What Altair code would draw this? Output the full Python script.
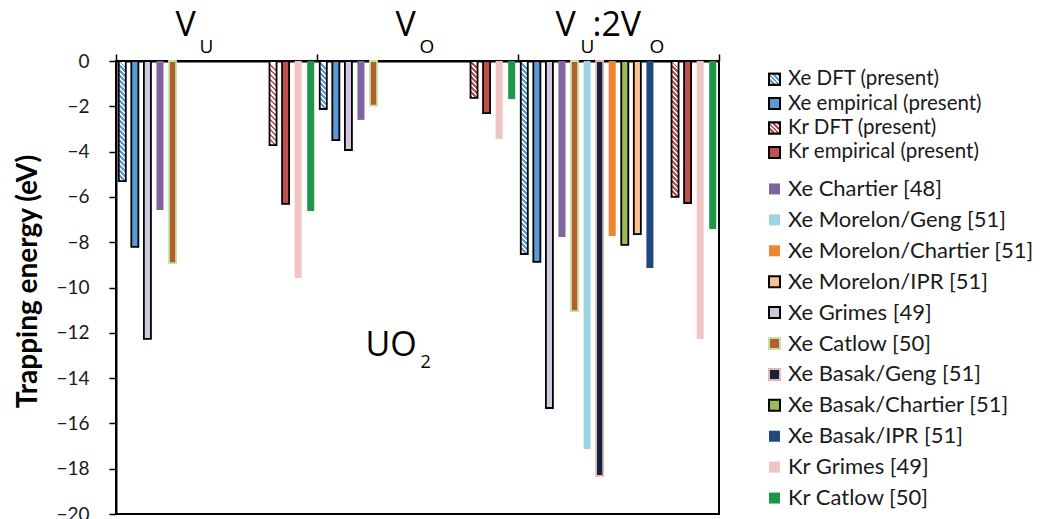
import altair as alt
import pandas as pd

# ---------------- data ----------------
categories = ["V_U", "V_O", "V_U:2V_O"]

series_slots = [
    "Xe DFT (present)", "Xe empirical (present)", "Xe Grimes [49]", "Xe Chartier [48]",
    "Xe Catlow [50]", "Xe Morelon/Geng [51]", "Xe Basak/Geng [51]", "Xe Morelon/Chartier [51]",
    "Xe Basak/Chartier [51]", "Xe Morelon/IPR [51]", "Xe Basak/IPR [51]", " ",
    "Kr DFT (present)", "Kr empirical (present)", "Kr Grimes [49]", "Kr Catlow [50]",
]

vals_vu = [-5.30, -8.21, -12.27, -6.58, -8.92, None, None, None,
           None, None, None, None, -3.71, -6.31, -9.58, -6.62]
vals_vo = [-2.12, -3.49, -3.93, -2.60, -1.97, None, None, None,
           None, None, None, None, -1.63, -2.30, -3.44, -1.68]
vals_vu2vo = [-8.52, -8.87, -15.32, -7.77, -11.04, -17.13, -18.32, -7.73,
              -8.12, -7.64, -9.14, None, -6.00, -6.27, -12.27, -7.42]

legend_top = ["Xe DFT (present)", "Xe empirical (present)", "Kr DFT (present)", "Kr empirical (present)"]
legend_bottom = ["Xe Chartier [48]", "Xe Morelon/Geng [51]", "Xe Morelon/Chartier [51]",
                 "Xe Morelon/IPR [51]", "Xe Grimes [49]", "Xe Catlow [50]", "Xe Basak/Geng [51]",
                 "Xe Basak/Chartier [51]", "Xe Basak/IPR [51]", "Kr Grimes [49]", "Kr Catlow [50]"]

# ---------------- styles ----------------
fill_map = {
    "Xe DFT (present)": "#ffffff", "Xe empirical (present)": "#5b9bd5",
    "Kr DFT (present)": "#ffffff", "Kr empirical (present)": "#c0504d",
    "Xe Chartier [48]": "#8064a2", "Xe Morelon/Geng [51]": "#9dd4e4",
    "Xe Morelon/Chartier [51]": "#ee8530", "Xe Morelon/IPR [51]": "#fac090",
    "Xe Grimes [49]": "#d0c6de", "Xe Catlow [50]": "#b0602a",
    "Xe Basak/Geng [51]": "#10253f", "Xe Basak/Chartier [51]": "#9bbb59",
    "Xe Basak/IPR [51]": "#1f497d", "Kr Grimes [49]": "#efc4c3",
    "Kr Catlow [50]": "#1e9648",
}
stroke_map = {
    "Xe DFT (present)": "#000000", "Xe empirical (present)": "#000000",
    "Kr DFT (present)": "#000000", "Kr empirical (present)": "#000000",
    "Xe Chartier [48]": "transparent", "Xe Morelon/Geng [51]": "transparent",
    "Xe Morelon/Chartier [51]": "transparent", "Xe Morelon/IPR [51]": "#000000",
    "Xe Grimes [49]": "#000000", "Xe Catlow [50]": "#c9dea4",
    "Xe Basak/Geng [51]": "#e8b5b4", "Xe Basak/Chartier [51]": "#000000",
    "Xe Basak/IPR [51]": "transparent", "Kr Grimes [49]": "transparent",
    "Kr Catlow [50]": "transparent",
}
hatch_color = {"Xe DFT (present)": "#5b9bd5", "Kr DFT (present)": "#c0504d"}

PLOT_W, PLOT_H = 603, 453
Y_MIN, Y_MAX = -20, 0
PAD_IN = 0.44
BAR_W = PLOT_W / len(categories) / len(series_slots) * (1 - PAD_IN)
FONT = "Lato"
SUBFONT = "Open Sans"


def hatch(color, w, h, period=5.0):
    n = (h + w * w / h) / period
    stops = []
    k = 0
    while k < n:
        a = k / n
        b = min((k + 0.5) / n, 1.0)
        c = min((k + 1) / n, 1.0)
        stops += [{"offset": a, "color": color}, {"offset": b, "color": color},
                  {"offset": b, "color": "#ffffff"}, {"offset": c, "color": "#ffffff"}]
        k += 1
    return {"gradient": "linear", "x1": 0, "y1": 1, "x2": w / h, "y2": 0, "stops": stops}


rows = []
for cat, vals in zip(categories, [vals_vu, vals_vo, vals_vu2vo]):
    for s, v in zip(series_slots, vals):
        if v is not None:
            rows.append({"category": cat, "series": s, "value": v})
df = pd.DataFrame(rows)

bar_series = [s for s in series_slots if s.strip()]

xenc = alt.X("category:N", sort=categories,
             scale=alt.Scale(domain=categories, paddingInner=0, paddingOuter=0),
             axis=alt.Axis(orient="top", labels=False, title=None, ticks=True, tickBand="extent",
                           tickSize=7, tickColor="black", tickWidth=1.5, domainColor="black",
                           domainWidth=2, grid=False))
xoenc = alt.XOffset("series:N", scale=alt.Scale(domain=series_slots, paddingInner=PAD_IN,
                                                 paddingOuter=PAD_IN / 2))
yenc = alt.Y("value:Q", scale=alt.Scale(domain=[Y_MIN, Y_MAX], nice=False, zero=False),
             axis=alt.Axis(values=list(range(-20, 1, 2)), tickSize=7, tickColor="black",
                           tickWidth=1.5, domainColor="black", domainWidth=2, grid=False,
                           labelFont=FONT, labelFontSize=19, labelColor="#1a1a1a",
                           labelPadding=20, title="Trapping energy (eV)", titleFont=FONT,
                           titleFontSize=28, titleFontWeight="bold", titleColor="#000000",
                           titlePadding=13, titleY=220))

bars = alt.Chart(df).transform_filter(
    "datum.series != 'Xe DFT (present)' && datum.series != 'Kr DFT (present)'"
).mark_bar(strokeWidth=1.8).encode(
    x=xenc, xOffset=xoenc, y=yenc,
    fill=alt.Fill("series:N", scale=alt.Scale(domain=bar_series,
                                              range=[fill_map[s] for s in bar_series]), legend=None),
    stroke=alt.Stroke("series:N", scale=alt.Scale(domain=bar_series,
                                                  range=[stroke_map[s] for s in bar_series]), legend=None),
)

layers = [bars]
for _, r in df[df.series.isin(list(hatch_color))].iterrows():
    h = -r.value * PLOT_H / (Y_MAX - Y_MIN)
    layers.append(
        alt.Chart(df).transform_filter(
            f"datum.series == '{r.series}' && datum.category == '{r.category}'"
        ).mark_bar(fill=hatch(hatch_color[r.series], BAR_W, h), stroke="black", strokeWidth=1.8)
        .encode(x=xenc, xOffset=xoenc, y=yenc)
    )

# category headings with subscripts: (category, text, dx, big?)
heading_parts = [
    ("V_U", "V", -41, True), ("V_U", "U", -17, False),
    ("V_O", "V", -22, True), ("V_O", "O", 2, False),
    ("V_U:2V_O", "V", -63, True), ("V_U:2V_O", "U", -38, False),
    ("V_U:2V_O", ":2V", -26, True), ("V_U:2V_O", "O", 31, False),
]
head_df = pd.DataFrame({"category": categories})
for cat, txt, dx, big in heading_parts:
    layers.append(
        alt.Chart(head_df).transform_filter(f"datum.category == '{cat}'").mark_text(
            text=txt, dx=dx, align="left", baseline="alphabetic", font=SUBFONT,
            fontSize=34 if big else 19, color="#000000"
        ).encode(x=xenc, y=alt.value(-25 if big else -8))
    )

# UO2 annotation
uo_df = pd.DataFrame({"category": ["V_O", "V_O"], "value": [-13.02, -13.55], "text": ["UO", "2"]})
layers.append(alt.Chart(uo_df).transform_filter("datum.text == 'UO'").mark_text(
    dx=-52, align="left", baseline="alphabetic", font=SUBFONT, fontSize=34, color="#000000"
).encode(x=xenc, y=yenc, text="text:N"))
layers.append(alt.Chart(uo_df).transform_filter("datum.text == '2'").mark_text(
    dx=3, align="left", baseline="alphabetic", font=SUBFONT, fontSize=18, color="#000000"
).encode(x=xenc, y=yenc, text="text:N"))

main = alt.layer(*layers).properties(
    width=PLOT_W, height=PLOT_H,
    view=alt.ViewBackground(stroke="black", strokeWidth=2),
)

# ---------------- legend ----------------
all_leg = legend_top + legend_bottom
leg_fill = alt.Scale(domain=all_leg, range=[fill_map[s] for s in all_leg])
leg_stroke = alt.Scale(domain=all_leg, range=[stroke_map[s] for s in all_leg])


def leg_group(labels, rng, font_size):
    d = pd.DataFrame({"label": labels})
    ysc = alt.Y("label:N", sort=labels, axis=None,
                scale=alt.Scale(domain=labels, range=rng, paddingInner=0, paddingOuter=0))
    out = [
        alt.Chart(d).mark_square(size=121, strokeWidth=2, opacity=1).encode(
            x=alt.value(7.5), y=ysc,
            fill=alt.Fill("label:N", scale=leg_fill, legend=None),
            stroke=alt.Stroke("label:N", scale=leg_stroke, legend=None)),
    ]
    for s in labels:
        if s in hatch_color:
            out.append(alt.Chart(d).transform_filter(f"datum.label == '{s}'").mark_square(
                size=121, strokeWidth=2, opacity=1, fill=hatch(hatch_color[s], 11, 11, 4.5),
                stroke="black").encode(x=alt.value(7.5), y=ysc))
    out.append(alt.Chart(d).mark_text(align="left", baseline="middle", font=FONT,
                                      fontSize=font_size, color="#1a1a1a").encode(
        x=alt.value(21), y=ysc, text="label:N"))
    return out


legend = alt.layer(
    *leg_group(legend_top, [6, 103.6], 20.5),
    *leg_group(legend_bottom, [112.5, 452.5], 22),
).resolve_scale(y="independent").properties(width=220, height=PLOT_H)

chart = alt.hconcat(main, legend, spacing=48, bounds="flush").properties(
    padding={"left": 5, "top": 0, "right": 0, "bottom": 0}, background="white"
).configure_view(stroke="transparent")

chart.save("out.html", embed_options={"renderer": "svg", "actions": False})
